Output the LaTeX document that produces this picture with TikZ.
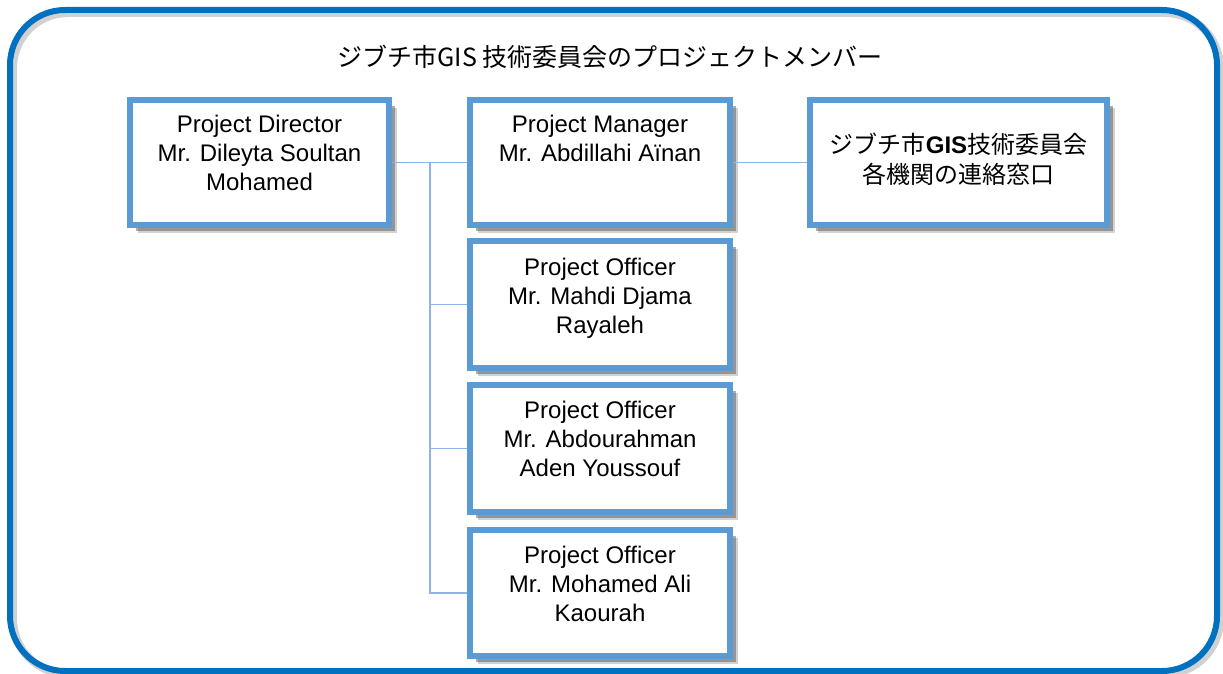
\documentclass[tikz,border=0pt]{standalone}
\usepackage{fontspec}
\setmainfont{Liberation Sans}
\newfontfamily\jp{Noto Sans CJK JP}
\usetikzlibrary{shadows,calc}
\definecolor{frameblue}{RGB}{0,112,192}
\definecolor{boxblue}{RGB}{91,155,213}
\definecolor{linkblue}{RGB}{141,180,226}
\begin{document}
\begin{tikzpicture}[x=1pt,y=-1pt,
  box/.style={draw=boxblue, line width=6pt, fill=white, rectangle, inner sep=0pt,
    drop shadow={shadow xshift=8pt, shadow yshift=-8pt, opacity=.25, fill=black!70},
    drop shadow={shadow xshift=6pt, shadow yshift=-6pt, opacity=.45, fill=black!70}},
  boxtext/.style={font=\fontsize{24}{29}\selectfont, align=center, anchor=north, inner sep=0pt},
  jptext/.style={font=\jp\fontsize{24}{30}\selectfont, align=center, anchor=north, inner sep=0pt},
  link/.style={draw=linkblue, line width=1.5pt}]
\useasboundingbox (0,0) rectangle (1223,674);
\fill[white] (0,0) rectangle (1223,674);
% outer frame with soft shadow
\draw[black!40, opacity=.45, line width=8pt, rounded corners=55pt] (13,13) rectangle (1220,674);
\draw[frameblue, line width=6pt, rounded corners=55pt] (10,10) rectangle (1217,671);
% title
\node[font=\jp\fontsize{25}{28}\selectfont, inner sep=0pt] (title) at (610,57) {ジブチ市GIS 技術委員会のプロジェクトメンバー};
% boxes
\node[box, minimum width=259pt, minimum height=125pt] (dir) at (259.5,162.5) {};
\node[box, minimum width=260pt, minimum height=125pt] (mgr) at (600,162.5) {};
\node[box, minimum width=260pt, minimum height=127pt] (off1) at (600,304.5) {};
\node[box, minimum width=260pt, minimum height=127pt] (off2) at (600,448.5) {};
\node[box, minimum width=260pt, minimum height=126pt] (off3) at (600,593) {};
\node[box, minimum width=297pt, minimum height=125pt] (rb) at (958.5,162.5) {};
% texts
\node[boxtext] (dirt) at (259.5,114.5) {Project Director\\Mr. Dileyta Soultan\\Mohamed};
\node[boxtext] (mgrt) at (600,114.5) {Project Manager\\Mr. Abdillahi Aïnan};
\node[boxtext] (off1t) at (600,257.5) {Project Officer\\Mr. Mahdi Djama\\Rayaleh};
\node[boxtext] (off2t) at (600,400.5) {Project Officer\\Mr. Abdourahman\\Aden Youssouf};
\node[boxtext] (off3t) at (600,545.5) {Project Officer\\Mr. Mohamed Ali\\Kaourah};
\node[jptext] (rbt) at (958.5,133) {ジブチ市{\rmfamily\bfseries GIS}技術委員会\\各機関の連絡窓口};
% connectors
\coordinate (sp) at (430,0);
\draw[link] (dir.east) -- (mgr.west);
\draw[link] (sp |- dir.east) -- (sp |- off3.west) -- (off3.west);
\draw[link] (sp |- off1.west) -- (off1.west);
\draw[link] (sp |- off2.west) -- (off2.west);
\draw[link] (mgr.east) -- (rb.west);
\end{tikzpicture}
\end{document}
